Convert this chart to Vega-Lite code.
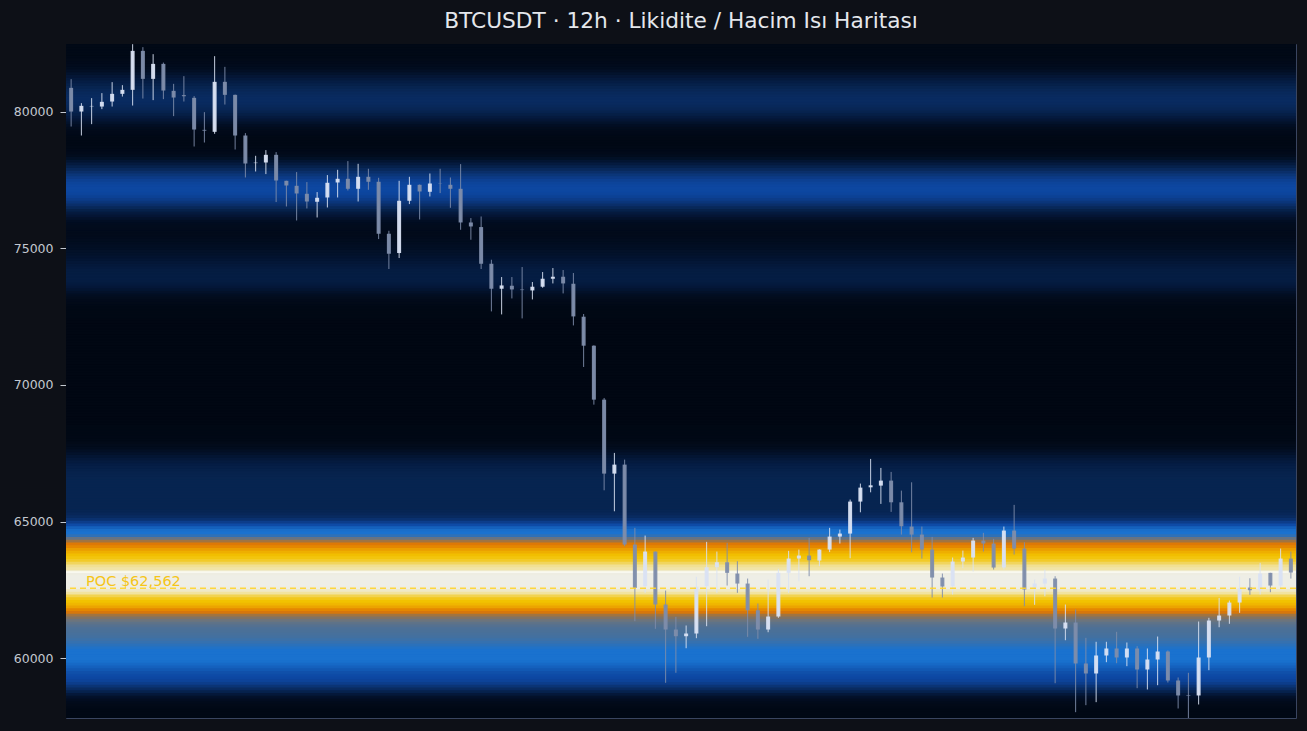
{
"$schema": "https://vega.github.io/schema/vega-lite/v6.json",
"width": 1230, "height": 674,
"autosize": {"type": "none"},
"padding": {"left": 66, "top": 44, "right": 11, "bottom": 13},
"background": "#0d1017",
"title": {"text": "BTCUSDT · 12h · Likidite / Hacim Isı Haritası", "font": "DejaVu Sans", "fontSize": 21.7, "fontWeight": "normal", "color": "#e4e7ec", "anchor": "middle", "frame": "group", "offset": -6, "baseline": "alphabetic"},
"config": {"view": {"stroke": "#3a4560", "strokeWidth": 1}},
"datasets": {
"heat": [
{"lo":82400,"hi":82500,"v":0.02},{"lo":82300,"hi":82400,"v":0.02},{"lo":82200,"hi":82300,"v":0.02},{"lo":82100,"hi":82200,"v":0.02},{"lo":82000,"hi":82100,"v":0.02},{"lo":81900,"hi":82000,"v":0.022},{"lo":81800,"hi":81900,"v":0.025},{"lo":81700,"hi":81800,"v":0.03},{"lo":81600,"hi":81700,"v":0.037},{"lo":81500,"hi":81600,"v":0.047},
{"lo":81400,"hi":81500,"v":0.06},{"lo":81300,"hi":81400,"v":0.075},{"lo":81200,"hi":81300,"v":0.09},{"lo":81100,"hi":81200,"v":0.107},{"lo":81000,"hi":81100,"v":0.122},{"lo":80900,"hi":81000,"v":0.137},{"lo":80800,"hi":80900,"v":0.15},{"lo":80700,"hi":80800,"v":0.162},{"lo":80600,"hi":80700,"v":0.171},{"lo":80500,"hi":80600,"v":0.177},
{"lo":80400,"hi":80500,"v":0.18},{"lo":80300,"hi":80400,"v":0.18},{"lo":80200,"hi":80300,"v":0.177},{"lo":80100,"hi":80200,"v":0.17},{"lo":80000,"hi":80100,"v":0.16},{"lo":79900,"hi":80000,"v":0.145},{"lo":79800,"hi":79900,"v":0.128},{"lo":79700,"hi":79800,"v":0.11},{"lo":79600,"hi":79700,"v":0.09},{"lo":79500,"hi":79600,"v":0.072},
{"lo":79400,"hi":79500,"v":0.055},{"lo":79300,"hi":79400,"v":0.042},{"lo":79200,"hi":79300,"v":0.032},{"lo":79100,"hi":79200,"v":0.024},{"lo":79000,"hi":79100,"v":0.019},{"lo":78900,"hi":79000,"v":0.016},{"lo":78800,"hi":78900,"v":0.015},{"lo":78700,"hi":78800,"v":0.016},{"lo":78600,"hi":78700,"v":0.019},{"lo":78500,"hi":78600,"v":0.024},
{"lo":78400,"hi":78500,"v":0.032},{"lo":78300,"hi":78400,"v":0.045},{"lo":78200,"hi":78300,"v":0.062},{"lo":78100,"hi":78200,"v":0.085},{"lo":78000,"hi":78100,"v":0.112},{"lo":77900,"hi":78000,"v":0.14},{"lo":77800,"hi":77900,"v":0.17},{"lo":77700,"hi":77800,"v":0.2},{"lo":77600,"hi":77700,"v":0.228},{"lo":77500,"hi":77600,"v":0.252},
{"lo":77400,"hi":77500,"v":0.272},{"lo":77300,"hi":77400,"v":0.287},{"lo":77200,"hi":77300,"v":0.297},{"lo":77100,"hi":77200,"v":0.3},{"lo":77000,"hi":77100,"v":0.298},{"lo":76900,"hi":77000,"v":0.29},{"lo":76800,"hi":76900,"v":0.276},{"lo":76700,"hi":76800,"v":0.256},{"lo":76600,"hi":76700,"v":0.23},{"lo":76500,"hi":76600,"v":0.2},
{"lo":76400,"hi":76500,"v":0.168},{"lo":76300,"hi":76400,"v":0.137},{"lo":76200,"hi":76300,"v":0.11},{"lo":76100,"hi":76200,"v":0.088},{"lo":76000,"hi":76100,"v":0.07},{"lo":75900,"hi":76000,"v":0.056},{"lo":75800,"hi":75900,"v":0.046},{"lo":75700,"hi":75800,"v":0.04},{"lo":75600,"hi":75700,"v":0.036},{"lo":75500,"hi":75600,"v":0.034},
{"lo":75400,"hi":75500,"v":0.034},{"lo":75300,"hi":75400,"v":0.038},{"lo":75200,"hi":75300,"v":0.045},{"lo":75100,"hi":75200,"v":0.05},{"lo":75000,"hi":75100,"v":0.055},{"lo":74900,"hi":75000,"v":0.06},{"lo":74800,"hi":74900,"v":0.066},{"lo":74700,"hi":74800,"v":0.072},{"lo":74600,"hi":74700,"v":0.079},{"lo":74500,"hi":74600,"v":0.087},
{"lo":74400,"hi":74500,"v":0.095},{"lo":74300,"hi":74400,"v":0.103},{"lo":74200,"hi":74300,"v":0.11},{"lo":74100,"hi":74200,"v":0.115},{"lo":74000,"hi":74100,"v":0.119},{"lo":73900,"hi":74000,"v":0.121},{"lo":73800,"hi":73900,"v":0.12},{"lo":73700,"hi":73800,"v":0.116},{"lo":73600,"hi":73700,"v":0.108},{"lo":73500,"hi":73600,"v":0.097},
{"lo":73400,"hi":73500,"v":0.083},{"lo":73300,"hi":73400,"v":0.068},{"lo":73200,"hi":73300,"v":0.054},{"lo":73100,"hi":73200,"v":0.042},{"lo":73000,"hi":73100,"v":0.032},{"lo":72900,"hi":73000,"v":0.025},{"lo":72800,"hi":72900,"v":0.02},{"lo":72700,"hi":72800,"v":0.016},{"lo":72600,"hi":72700,"v":0.014},{"lo":72500,"hi":72600,"v":0.012},
{"lo":72400,"hi":72500,"v":0.011},{"lo":72300,"hi":72400,"v":0.01},{"lo":72200,"hi":72300,"v":0.01},{"lo":72100,"hi":72200,"v":0.01},{"lo":72000,"hi":72100,"v":0.01},{"lo":71900,"hi":72000,"v":0.01},{"lo":71800,"hi":71900,"v":0.01},{"lo":71700,"hi":71800,"v":0.01},{"lo":71600,"hi":71700,"v":0.01},{"lo":71500,"hi":71600,"v":0.01},
{"lo":71400,"hi":71500,"v":0.01},{"lo":71300,"hi":71400,"v":0.01},{"lo":71200,"hi":71300,"v":0.01},{"lo":71100,"hi":71200,"v":0.01},{"lo":71000,"hi":71100,"v":0.01},{"lo":70900,"hi":71000,"v":0.01},{"lo":70800,"hi":70900,"v":0.01},{"lo":70700,"hi":70800,"v":0.01},{"lo":70600,"hi":70700,"v":0.01},{"lo":70500,"hi":70600,"v":0.01},
{"lo":70400,"hi":70500,"v":0.01},{"lo":70300,"hi":70400,"v":0.01},{"lo":70200,"hi":70300,"v":0.01},{"lo":70100,"hi":70200,"v":0.01},{"lo":70000,"hi":70100,"v":0.01},{"lo":69900,"hi":70000,"v":0.01},{"lo":69800,"hi":69900,"v":0.01},{"lo":69700,"hi":69800,"v":0.01},{"lo":69600,"hi":69700,"v":0.01},{"lo":69500,"hi":69600,"v":0.01},
{"lo":69400,"hi":69500,"v":0.01},{"lo":69300,"hi":69400,"v":0.01},{"lo":69200,"hi":69300,"v":0.01},{"lo":69100,"hi":69200,"v":0.01},{"lo":69000,"hi":69100,"v":0.01},{"lo":68900,"hi":69000,"v":0.01},{"lo":68800,"hi":68900,"v":0.01},{"lo":68700,"hi":68800,"v":0.01},{"lo":68600,"hi":68700,"v":0.01},{"lo":68500,"hi":68600,"v":0.01},
{"lo":68400,"hi":68500,"v":0.011},{"lo":68300,"hi":68400,"v":0.011},{"lo":68200,"hi":68300,"v":0.012},{"lo":68100,"hi":68200,"v":0.014},{"lo":68000,"hi":68100,"v":0.016},{"lo":67900,"hi":68000,"v":0.02},{"lo":67800,"hi":67900,"v":0.026},{"lo":67700,"hi":67800,"v":0.034},{"lo":67600,"hi":67700,"v":0.045},{"lo":67500,"hi":67600,"v":0.058},
{"lo":67400,"hi":67500,"v":0.072},{"lo":67300,"hi":67400,"v":0.087},{"lo":67200,"hi":67300,"v":0.1},{"lo":67100,"hi":67200,"v":0.112},{"lo":67000,"hi":67100,"v":0.122},{"lo":66900,"hi":67000,"v":0.13},{"lo":66800,"hi":66900,"v":0.137},{"lo":66700,"hi":66800,"v":0.142},{"lo":66600,"hi":66700,"v":0.146},{"lo":66500,"hi":66600,"v":0.148},
{"lo":66400,"hi":66500,"v":0.15},{"lo":66300,"hi":66400,"v":0.15},{"lo":66200,"hi":66300,"v":0.15},{"lo":66100,"hi":66200,"v":0.15},{"lo":66000,"hi":66100,"v":0.15},{"lo":65900,"hi":66000,"v":0.15},{"lo":65800,"hi":65900,"v":0.15},{"lo":65700,"hi":65800,"v":0.15},{"lo":65600,"hi":65700,"v":0.15},{"lo":65500,"hi":65600,"v":0.15},
{"lo":65400,"hi":65500,"v":0.15},{"lo":65300,"hi":65400,"v":0.155},{"lo":65200,"hi":65300,"v":0.165},{"lo":65100,"hi":65200,"v":0.18},{"lo":65000,"hi":65100,"v":0.21},{"lo":64900,"hi":65000,"v":0.26},{"lo":64800,"hi":64900,"v":0.31},{"lo":64700,"hi":64800,"v":0.36},{"lo":64600,"hi":64700,"v":0.39},{"lo":64500,"hi":64600,"v":0.4},
{"lo":64400,"hi":64500,"v":0.43},{"lo":64300,"hi":64400,"v":0.52},{"lo":64200,"hi":64300,"v":0.6},{"lo":64100,"hi":64200,"v":0.655},{"lo":64000,"hi":64100,"v":0.68},{"lo":63900,"hi":64000,"v":0.71},{"lo":63800,"hi":63900,"v":0.735},{"lo":63700,"hi":63800,"v":0.755},{"lo":63600,"hi":63700,"v":0.77},{"lo":63500,"hi":63600,"v":0.79},
{"lo":63400,"hi":63500,"v":0.83},{"lo":63300,"hi":63400,"v":0.87},{"lo":63200,"hi":63300,"v":0.89},{"lo":63150,"hi":63200,"v":0.93},{"lo":63100,"hi":63150,"v":1.0},{"lo":63000,"hi":63100,"v":0.965},{"lo":62900,"hi":63000,"v":0.97},{"lo":62800,"hi":62900,"v":0.97},{"lo":62700,"hi":62800,"v":0.97},{"lo":62600,"hi":62700,"v":0.97},
{"lo":62500,"hi":62600,"v":0.965},{"lo":62400,"hi":62500,"v":0.93},{"lo":62300,"hi":62400,"v":0.88},{"lo":62200,"hi":62300,"v":0.82},{"lo":62100,"hi":62200,"v":0.78},{"lo":62000,"hi":62100,"v":0.76},{"lo":61900,"hi":62000,"v":0.745},{"lo":61800,"hi":61900,"v":0.72},{"lo":61700,"hi":61800,"v":0.68},{"lo":61600,"hi":61700,"v":0.65},
{"lo":61500,"hi":61600,"v":0.6},{"lo":61400,"hi":61500,"v":0.565},{"lo":61300,"hi":61400,"v":0.535},{"lo":61200,"hi":61300,"v":0.51},{"lo":61100,"hi":61200,"v":0.49},{"lo":61000,"hi":61100,"v":0.475},{"lo":60900,"hi":61000,"v":0.47},{"lo":60800,"hi":60900,"v":0.465},{"lo":60700,"hi":60800,"v":0.46},{"lo":60600,"hi":60700,"v":0.45},
{"lo":60500,"hi":60600,"v":0.44},{"lo":60400,"hi":60500,"v":0.425},{"lo":60300,"hi":60400,"v":0.41},{"lo":60200,"hi":60300,"v":0.4},{"lo":60100,"hi":60200,"v":0.4},{"lo":60000,"hi":60100,"v":0.4},{"lo":59900,"hi":60000,"v":0.4},{"lo":59800,"hi":59900,"v":0.395},{"lo":59700,"hi":59800,"v":0.38},{"lo":59600,"hi":59700,"v":0.36},
{"lo":59500,"hi":59600,"v":0.34},{"lo":59400,"hi":59500,"v":0.32},{"lo":59300,"hi":59400,"v":0.31},{"lo":59200,"hi":59300,"v":0.3},{"lo":59100,"hi":59200,"v":0.285},{"lo":59000,"hi":59100,"v":0.26},{"lo":58900,"hi":59000,"v":0.22},{"lo":58800,"hi":58900,"v":0.18},{"lo":58700,"hi":58800,"v":0.14},{"lo":58600,"hi":58700,"v":0.1},
{"lo":58500,"hi":58600,"v":0.07},{"lo":58400,"hi":58500,"v":0.05},{"lo":58300,"hi":58400,"v":0.035},{"lo":58200,"hi":58300,"v":0.025},{"lo":58100,"hi":58200,"v":0.02},{"lo":58000,"hi":58100,"v":0.015},{"lo":57900,"hi":58000,"v":0.015},{"lo":57800,"hi":57900,"v":0.015},{"lo":57700,"hi":57800,"v":0.015}
],
"candles": [
{"t":0,"o":80866,"h":81184,"l":79452,"c":80000},{"t":1,"o":80000,"h":80307,"l":79123,"c":80208},{"t":2,"o":80190,"h":80490,"l":79539,"c":80205},{"t":3,"o":80183,"h":80673,"l":80088,"c":80355},{"t":4,"o":80366,"h":81075,"l":80183,"c":80647},{"t":5,"o":80647,"h":80965,"l":80548,"c":80793},{"t":6,"o":80793,"h":82463,"l":80219,"c":82219},{"t":7,"o":82219,"h":82354,"l":80475,"c":81195},{"t":8,"o":81195,"h":82098,"l":80417,"c":81743},{"t":9,"o":81743,"h":81791,"l":80453,"c":80768},
{"t":10,"o":80757,"h":81012,"l":79832,"c":80512},{"t":11,"o":80600,"h":81294,"l":80366,"c":80560},{"t":12,"o":80501,"h":80563,"l":78721,"c":79342},{"t":13,"o":79330,"h":79978,"l":78867,"c":79300},{"t":14,"o":79258,"h":82025,"l":79185,"c":81086},{"t":15,"o":81086,"h":81634,"l":80256,"c":80610},{"t":16,"o":80610,"h":80620,"l":78611,"c":79123},{"t":17,"o":79123,"h":79211,"l":77588,"c":78099},{"t":18,"o":78114,"h":78381,"l":77807,"c":78130},{"t":19,"o":78136,"h":78589,"l":77712,"c":78417},
{"t":20,"o":78417,"h":78516,"l":76689,"c":77478},{"t":21,"o":77467,"h":77470,"l":76528,"c":77295},{"t":22,"o":77284,"h":77785,"l":76016,"c":77003},{"t":23,"o":76992,"h":77420,"l":76455,"c":76710},{"t":24,"o":76700,"h":77054,"l":76126,"c":76846},{"t":25,"o":76857,"h":77675,"l":76491,"c":77394},{"t":26,"o":77405,"h":77869,"l":76857,"c":77540},{"t":27,"o":77540,"h":78187,"l":77113,"c":77175},{"t":28,"o":77175,"h":78088,"l":76710,"c":77613},{"t":29,"o":77613,"h":77906,"l":77138,"c":77431},
{"t":30,"o":77431,"h":77577,"l":75336,"c":75530},{"t":31,"o":75530,"h":75640,"l":74240,"c":74799},{"t":32,"o":74825,"h":77467,"l":74642,"c":76736},{"t":33,"o":76736,"h":77613,"l":76615,"c":77321},{"t":34,"o":77321,"h":77330,"l":76053,"c":77076},{"t":35,"o":77065,"h":77734,"l":76893,"c":77368},{"t":36,"o":77360,"h":77906,"l":77017,"c":77350},{"t":37,"o":77321,"h":77588,"l":76480,"c":77175},{"t":38,"o":77175,"h":78077,"l":75676,"c":75943},{"t":39,"o":75943,"h":76104,"l":75311,"c":75797},
{"t":40,"o":75775,"h":76162,"l":74240,"c":74433},{"t":41,"o":74433,"h":74580,"l":72690,"c":73519},{"t":42,"o":73519,"h":73947,"l":72580,"c":73640},{"t":43,"o":73629,"h":73947,"l":73165,"c":73494},{"t":44,"o":73490,"h":74313,"l":72434,"c":73470},{"t":45,"o":73457,"h":73765,"l":73128,"c":73593},{"t":46,"o":73593,"h":74130,"l":73556,"c":73885},{"t":47,"o":73885,"h":74276,"l":73713,"c":73958},{"t":48,"o":73958,"h":74203,"l":73348,"c":73713},{"t":49,"o":73702,"h":74094,"l":72178,"c":72507},
{"t":50,"o":72496,"h":72595,"l":70658,"c":71436},{"t":51,"o":71436,"h":71450,"l":69280,"c":69463},{"t":52,"o":69463,"h":69525,"l":66148,"c":66758},{"t":53,"o":66758,"h":67515,"l":65380,"c":67087},{"t":54,"o":67087,"h":67270,"l":64101,"c":64163},{"t":55,"o":64163,"h":64774,"l":61360,"c":62580},{"t":56,"o":62639,"h":64492,"l":62397,"c":63907},{"t":57,"o":63907,"h":63910,"l":61082,"c":61970},{"t":58,"o":61970,"h":62481,"l":59107,"c":61056},{"t":59,"o":61056,"h":61520,"l":59473,"c":60811},
{"t":60,"o":60811,"h":61203,"l":60372,"c":60910},{"t":61,"o":60910,"h":62982,"l":60738,"c":62617},{"t":62,"o":62639,"h":64262,"l":61177,"c":63333},{"t":63,"o":63333,"h":63907,"l":62397,"c":63516},{"t":64,"o":63516,"h":64225,"l":62664,"c":63128},{"t":65,"o":63103,"h":63553,"l":62397,"c":62737},{"t":66,"o":62737,"h":62920,"l":60789,"c":61761},{"t":67,"o":61761,"h":62006,"l":60716,"c":61056},{"t":68,"o":61056,"h":62883,"l":60957,"c":61531},{"t":69,"o":61531,"h":63274,"l":61483,"c":63128},
{"t":70,"o":63128,"h":63933,"l":62397,"c":63651},{"t":71,"o":63651,"h":63980,"l":62822,"c":63761},{"t":72,"o":63761,"h":64408,"l":63005,"c":63589},{"t":73,"o":63578,"h":63990,"l":63370,"c":63980},{"t":74,"o":63980,"h":64774,"l":63888,"c":64455},{"t":75,"o":64455,"h":64711,"l":64200,"c":64565},{"t":76,"o":64565,"h":65808,"l":63662,"c":65735},{"t":77,"o":65735,"h":66393,"l":65343,"c":66246},{"t":78,"o":66257,"h":67295,"l":66074,"c":66330},{"t":79,"o":66319,"h":66966,"l":65650,"c":66502},
{"t":80,"o":66502,"h":66820,"l":65358,"c":65709},{"t":81,"o":65709,"h":66136,"l":64528,"c":64832},{"t":82,"o":64821,"h":66440,"l":63881,"c":64528},{"t":83,"o":64528,"h":64821,"l":63651,"c":63980},{"t":84,"o":63980,"h":64444,"l":62225,"c":62957},{"t":85,"o":62957,"h":63103,"l":62225,"c":62628},{"t":86,"o":62639,"h":63688,"l":62335,"c":63541},{"t":87,"o":63541,"h":63943,"l":63297,"c":63688},{"t":88,"o":63688,"h":64408,"l":63176,"c":64310},{"t":89,"o":64310,"h":64591,"l":63907,"c":64200},
{"t":90,"o":64200,"h":64372,"l":63249,"c":63323},{"t":91,"o":63323,"h":64821,"l":63249,"c":64675},{"t":92,"o":64675,"h":65614,"l":63798,"c":64017},{"t":93,"o":64017,"h":64247,"l":61907,"c":62518},{"t":94,"o":62591,"h":62883,"l":61959,"c":62737},{"t":95,"o":62737,"h":63249,"l":62273,"c":62920},{"t":96,"o":62920,"h":63005,"l":59092,"c":61093},{"t":97,"o":61093,"h":61970,"l":60665,"c":61312},{"t":98,"o":61312,"h":61787,"l":58033,"c":59814},{"t":99,"o":59814,"h":60752,"l":58289,"c":59448},
{"t":100,"o":59448,"h":60607,"l":58399,"c":60106},{"t":101,"o":60106,"h":60607,"l":59861,"c":60362},{"t":102,"o":60362,"h":60972,"l":59824,"c":60033},{"t":103,"o":60033,"h":60581,"l":59715,"c":60362},{"t":104,"o":60362,"h":60446,"l":58911,"c":59594},{"t":105,"o":59594,"h":60362,"l":58863,"c":59960},{"t":106,"o":59960,"h":60800,"l":59020,"c":60252},{"t":107,"o":60252,"h":60290,"l":59118,"c":59192},{"t":108,"o":59192,"h":59302,"l":58168,"c":58644},{"t":109,"o":58660,"h":59473,"l":57817,"c":58640},
{"t":110,"o":58644,"h":61349,"l":58314,"c":60033},{"t":111,"o":60033,"h":61483,"l":59569,"c":61385},{"t":112,"o":61385,"h":62214,"l":61140,"c":61568},{"t":113,"o":61568,"h":62116,"l":61265,"c":62043},{"t":114,"o":62043,"h":62982,"l":61666,"c":62566},{"t":115,"o":62591,"h":62931,"l":62324,"c":62493},{"t":116,"o":62493,"h":63494,"l":62335,"c":63103},{"t":117,"o":63128,"h":63130,"l":62420,"c":62664},{"t":118,"o":62664,"h":64017,"l":62518,"c":63651},{"t":119,"o":63651,"h":63907,"l":62920,"c":63140}
],
"poc": [{"poc": 62562, "label": "POC $62,562"}]
},
"layer": [
{"data": {"name": "heat"},
 "mark": {"type": "rect", "clip": true, "strokeWidth": 2},
 "encoding": {
  "x": {"datum": -0.5, "type": "quantitative", "scale": {"domain": [-0.5, 119.5], "nice": false, "zero": false, "padding": 0}, "axis": null},
  "x2": {"datum": 119.5},
  "y": {"field": "lo", "type": "quantitative", "scale": {"domain": [57820, 82470], "nice": false, "zero": false, "padding": 0},
        "axis": {"values": [60000, 65000, 70000, 75000, 80000], "format": "d", "title": null, "grid": false, "domain": false, "labelColor": "#c3c8d0", "labelFont": "DejaVu Sans", "labelFontSize": 12.5, "tickColor": "#c3c8d0", "tickSize": 6, "labelPadding": 7}},
  "y2": {"field": "hi"},
  "fill": {"field": "v", "type": "quantitative", "legend": null, "scale": {"type": "linear", "interpolate": "rgb", "domain": [0, 0.05, 0.1, 0.15, 0.2, 0.3, 0.4, 0.47, 0.53, 0.58, 0.66, 0.76, 0.88, 0.97, 1], "range": ["#010610", "#020d20", "#04183a", "#072450", "#0a2f6a", "#0d47a1", "#1a72cf", "#4a7098", "#6a7480", "#8a7258", "#e27800", "#f2c200", "#f1e3a0", "#eeeee6", "#fbfbf4"]}},
  "stroke": {"field": "v", "type": "quantitative", "legend": null, "scale": {"type": "linear", "interpolate": "rgb", "domain": [0, 0.05, 0.1, 0.15, 0.2, 0.3, 0.4, 0.47, 0.53, 0.58, 0.66, 0.76, 0.88, 0.97, 1], "range": ["#010610", "#020d20", "#04183a", "#072450", "#0a2f6a", "#0d47a1", "#1a72cf", "#4a7098", "#6a7480", "#8a7258", "#e27800", "#f2c200", "#f1e3a0", "#eeeee6", "#fbfbf4"]}}
 }},
{"data": {"name": "candles"},
 "mark": {"type": "rule", "strokeWidth": 1, "clip": true, "opacity": 0.9},
 "encoding": {
  "x": {"field": "t", "type": "quantitative"},
  "y": {"field": "l", "type": "quantitative"},
  "y2": {"field": "h"},
  "color": {"condition": {"test": "datum.c >= datum.o", "value": "#d9e2f3"}, "value": "#7e8dab"}
 }},
{"data": {"name": "candles"},
 "mark": {"type": "bar", "width": 4, "clip": true, "opacity": 0.95},
 "encoding": {
  "x": {"field": "t", "type": "quantitative"},
  "y": {"field": "o", "type": "quantitative"},
  "y2": {"field": "c"},
  "color": {"condition": {"test": "datum.c >= datum.o", "value": "#d9e2f3"}, "value": "#7e8dab"}
 }},
{"data": {"name": "poc"},
 "mark": {"type": "rule", "strokeDash": [6, 4], "strokeWidth": 1.5, "color": "#ffd42a", "opacity": 0.9},
 "encoding": {"y": {"field": "poc", "type": "quantitative"}}},
{"data": {"name": "poc"},
 "mark": {"type": "text", "align": "left", "baseline": "alphabetic", "dy": -2, "font": "DejaVu Sans", "fontSize": 14.5, "color": "#f5c518"},
 "encoding": {
  "x": {"datum": 1.45, "type": "quantitative"},
  "y": {"field": "poc", "type": "quantitative"},
  "text": {"field": "label"}
 }}
]
}
